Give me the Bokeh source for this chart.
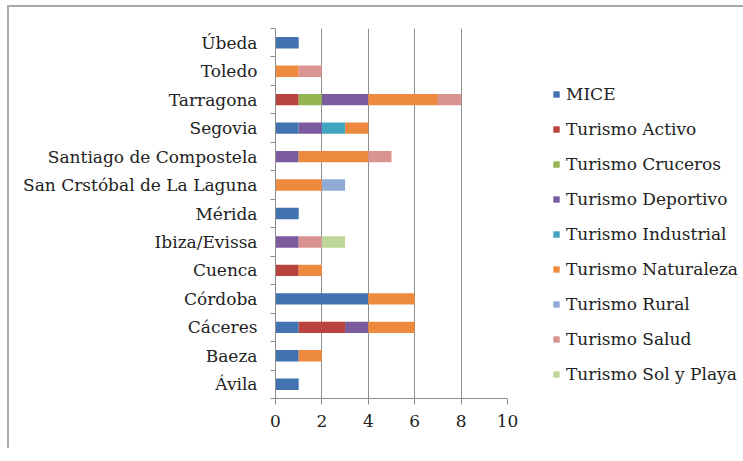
from bokeh.plotting import figure
from bokeh.models import (Legend, LegendItem, LinearAxis, Range1d,
                          FixedTicker, ColumnDataSource)
from bokeh.embed import file_html
from bokeh.resources import INLINE

cities = ["Ávila", "Baeza", "Cáceres", "Córdoba", "Cuenca", "Ibiza/Evissa", "Mérida",
          "San Crstóbal de La Laguna", "Santiago de Compostela", "Segovia",
          "Tarragona", "Toledo", "Úbeda"]
series = ["MICE", "Turismo Activo", "Turismo Cruceros", "Turismo Deportivo",
          "Turismo Industrial", "Turismo Naturaleza", "Turismo Rural",
          "Turismo Salud", "Turismo Sol y Playa"]
mice       = [1, 1, 1, 4, 0, 0, 1, 0, 0, 1, 0, 0, 1]
activo     = [0, 0, 2, 0, 1, 0, 0, 0, 0, 0, 1, 0, 0]
cruceros   = [0, 0, 0, 0, 0, 0, 0, 0, 0, 0, 1, 0, 0]
deportivo  = [0, 0, 1, 0, 0, 1, 0, 0, 1, 1, 2, 0, 0]
industrial = [0, 0, 0, 0, 0, 0, 0, 0, 0, 1, 0, 0, 0]
naturaleza = [0, 1, 2, 2, 1, 0, 0, 2, 3, 1, 3, 1, 0]
rural      = [0, 0, 0, 0, 0, 0, 0, 1, 0, 0, 0, 0, 0]
salud      = [0, 0, 0, 0, 0, 1, 0, 0, 1, 0, 1, 1, 0]
solplaya   = [0, 0, 0, 0, 0, 1, 0, 0, 0, 0, 0, 0, 0]
x_ticks = [0, 2, 4, 6, 8, 10]

colors = ["#4272B0", "#B9443F", "#92B551", "#7A5C9E", "#41A4C0", "#EE8A3E",
          "#90AAD6", "#D99492", "#BED699"]

keys = ["mice", "activo", "cruceros", "deportivo", "industrial", "naturaleza",
        "rural", "salud", "solplaya"]
n = len(cities)
centers = [i + 0.5 for i in range(n)]
data = dict(pos=centers, mice=mice, activo=activo, cruceros=cruceros,
            deportivo=deportivo, industrial=industrial, naturaleza=naturaleza,
            rural=rural, salud=salud, solplaya=solplaya)
src = ColumnDataSource(data)

FONT = "DejaVu Serif"
FS = "17px"
GRAY = "#8E8E8E"

p = figure(frame_width=232, frame_height=370, y_range=Range1d(0, n), x_range=Range1d(0, 10),
           output_backend="svg", toolbar_location=None, y_axis_location=None,
           min_border_left=266, min_border_right=227, min_border_top=21,
           min_border_bottom=50)
p.styles = {"border-top": "2px solid #A8A8A8", "border-left": "2px solid #A8A8A8",
            "margin-left": "7px", "margin-top": "5px"}
p.outline_line_color = None
p.background_fill_color = "white"
p.border_fill_color = "white"

renderers = p.hbar_stack(keys, y="pos", height=0.4, color=colors, source=src,
                         line_width=0)

# x axis
xa = p.xaxis[0]
xa.ticker = FixedTicker(ticks=x_ticks)
xa.axis_line_color = GRAY
xa.major_tick_line_color = GRAY
xa.major_tick_out = 6
xa.major_tick_in = 0
xa.minor_tick_line_color = None
xa.major_label_text_font = FONT
xa.major_label_text_font_size = FS
xa.major_label_text_color = "#222222"
xa.major_label_standoff = 10

p.xgrid.ticker = FixedTicker(ticks=x_ticks)
p.xgrid.grid_line_color = GRAY
p.xgrid.grid_line_width = 1
p.ygrid.grid_line_color = None

# y tick axis at category boundaries
ta = LinearAxis(ticker=FixedTicker(ticks=list(range(n + 1))))
ta.axis_line_color = GRAY
ta.major_tick_line_color = GRAY
ta.major_tick_out = 5
ta.major_tick_in = 0
ta.minor_tick_line_color = None
ta.major_label_text_font_size = "0px"
ta.major_label_text_color = None
ta.major_label_standoff = 0
p.add_layout(ta, "left")

# category labels at band centers
ca = LinearAxis(ticker=FixedTicker(ticks=centers),
                major_label_overrides={c: name for c, name in zip(centers, cities)})
ca.axis_line_color = None
ca.major_tick_line_color = None
ca.minor_tick_line_color = None
ca.major_label_text_font = FONT
ca.major_label_text_font_size = FS
ca.major_label_text_color = "#222222"
ca.major_label_standoff = 7
p.add_layout(ca, "left")

items = [LegendItem(label=s, renderers=[r]) for s, r in zip(series, renderers)]
legend = Legend(items=items, location=(45, 14), orientation="vertical")
legend.glyph_width = 8
legend.glyph_height = 8
legend.label_height = 20
legend.spacing = 15
legend.padding = 0
legend.margin = 0
legend.label_standoff = 6
legend.label_text_font = FONT
legend.label_text_font_size = FS
legend.label_text_color = "#222222"
legend.border_line_color = None
legend.background_fill_alpha = 0
p.add_layout(legend, "right")

open("out.html", "w").write(file_html(p, INLINE))
